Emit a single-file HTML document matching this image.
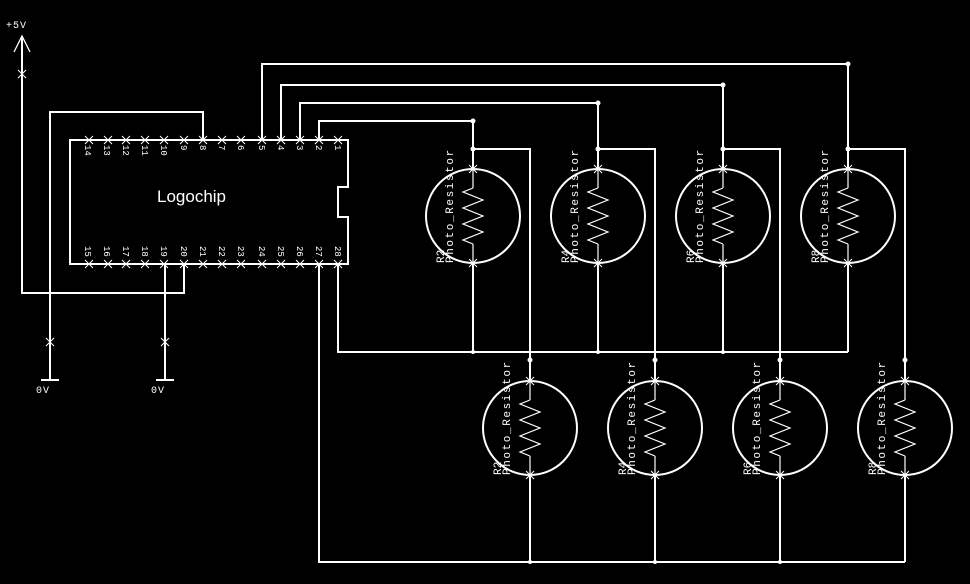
<!DOCTYPE html>
<html><head><meta charset="utf-8"><style>
html,body{margin:0;padding:0;background:#000;}
svg{display:block;}
text{font-family:"Liberation Mono",monospace;fill:#fff;}
</style></head><body>
<svg width="970" height="584" viewBox="0 0 970 584" xmlns="http://www.w3.org/2000/svg">
<defs>
<g id="res">
  <circle cx="0" cy="0" r="47" fill="none" stroke="#fff" stroke-width="2"/>
  <line x1="0" y1="-47" x2="0" y2="-28" stroke="#fff" stroke-width="1.2"/>
  <polyline points="0,-28 -10,-24 10,-16 -10,-8 10,0 -10,8 10,16 -10,24 0,28" fill="none" stroke="#fff" stroke-width="1.2"/>
  <line x1="0" y1="28" x2="0" y2="47" stroke="#fff" stroke-width="1.2"/>
  <path d="M-4,-51 L4,-43 M4,-51 L-4,-43 M-4,43 L4,51 M4,43 L-4,51" stroke="#fff" stroke-width="1"/>
  <text transform="translate(-20,47) rotate(-90)" font-size="11" letter-spacing="1.6">Photo_Resistor</text>
</g>
</defs>
<g stroke="#fff" stroke-width="2" fill="none">
  <path d="M70,140 H348 V187 H338 V217 H348 V264 H70 Z"/>
  <path d="M22,36 V293 H184 V264"/>
  <path d="M203,140 V112 H50 V380"/>
  <path d="M41,380 H59"/>
  <path d="M165,264 V380"/>
  <path d="M156,380 H174"/>
  <path d="M319,140 V121 H473 V169"/>
  <path d="M300,140 V103 H598 V169"/>
  <path d="M281,140 V85 H723 V169"/>
  <path d="M262,140 V64 H848 V169"/>
  <path d="M473,149 H530 V381"/>
  <path d="M598,149 H655 V381"/>
  <path d="M723,149 H780 V381"/>
  <path d="M848,149 H905 V381"/>
  <path d="M338,264 V352 H848"/>
  <path d="M473,263 V352 M598,263 V352 M723,263 V352 M848,263 V352"/>
  <path d="M319,264 V562 H905"/>
  <path d="M530,475 V562 M655,475 V562 M780,475 V562 M905,475 V562"/>
</g>
<path d="M14,52 L22,36 L30,52" stroke="#fff" stroke-width="1.3" fill="none"/>
<g fill="#fff">
  <circle cx="473" cy="121" r="2.5"/><circle cx="598" cy="103" r="2.5"/><circle cx="723" cy="85" r="2.5"/><circle cx="848" cy="64" r="2.5"/>
  <circle cx="473" cy="149" r="2.5"/><circle cx="598" cy="149" r="2.5"/><circle cx="723" cy="149" r="2.5"/><circle cx="848" cy="149" r="2.5"/>
  <circle cx="530" cy="360" r="2.5"/><circle cx="655" cy="360" r="2.5"/><circle cx="780" cy="360" r="2.5"/><circle cx="905" cy="360" r="2.5"/>
  <circle cx="473" cy="352" r="2"/><circle cx="598" cy="352" r="2"/><circle cx="723" cy="352" r="2"/>
  <circle cx="530" cy="562" r="2"/><circle cx="655" cy="562" r="2"/><circle cx="780" cy="562" r="2"/>
</g>
<g stroke="#fff" stroke-width="1">
  <path d="M18,70 L26,78 M26,70 L18,78"/>
  <path d="M46,338 L54,346 M54,338 L46,346"/>
  <path d="M161,338 L169,346 M169,338 L161,346"/>
  <path d="M85,136 l8,8 m0,-8 l-8,8 M104,136 l8,8 m0,-8 l-8,8 M122,136 l8,8 m0,-8 l-8,8 M141,136 l8,8 m0,-8 l-8,8 M160,136 l8,8 m0,-8 l-8,8 M180,136 l8,8 m0,-8 l-8,8 M199,136 l8,8 m0,-8 l-8,8 M218,136 l8,8 m0,-8 l-8,8 M237,136 l8,8 m0,-8 l-8,8 M258,136 l8,8 m0,-8 l-8,8 M277,136 l8,8 m0,-8 l-8,8 M296,136 l8,8 m0,-8 l-8,8 M315,136 l8,8 m0,-8 l-8,8 M334,136 l8,8 m0,-8 l-8,8"/>
  <path d="M85,260 l8,8 m0,-8 l-8,8 M104,260 l8,8 m0,-8 l-8,8 M122,260 l8,8 m0,-8 l-8,8 M141,260 l8,8 m0,-8 l-8,8 M160,260 l8,8 m0,-8 l-8,8 M180,260 l8,8 m0,-8 l-8,8 M199,260 l8,8 m0,-8 l-8,8 M218,260 l8,8 m0,-8 l-8,8 M237,260 l8,8 m0,-8 l-8,8 M258,260 l8,8 m0,-8 l-8,8 M277,260 l8,8 m0,-8 l-8,8 M296,260 l8,8 m0,-8 l-8,8 M315,260 l8,8 m0,-8 l-8,8 M334,260 l8,8 m0,-8 l-8,8"/>
</g>
<text x="6" y="28" font-size="10" letter-spacing="1">+5V</text>
<text x="36" y="393" font-size="10" letter-spacing="1">0V</text>
<text x="151" y="393" font-size="10" letter-spacing="1">0V</text>
<text x="157" y="202" font-size="17" style="font-family:'Liberation Sans',sans-serif">Logochip</text>
<g font-size="9">
  <text transform="translate(85,145) rotate(90)">14</text>
  <text transform="translate(104,145) rotate(90)">13</text>
  <text transform="translate(123,145) rotate(90)">12</text>
  <text transform="translate(142,145) rotate(90)">11</text>
  <text transform="translate(161,145) rotate(90)">10</text>
  <text transform="translate(181,145) rotate(90)">9</text>
  <text transform="translate(200,145) rotate(90)">8</text>
  <text transform="translate(219,145) rotate(90)">7</text>
  <text transform="translate(238,145) rotate(90)">6</text>
  <text transform="translate(259,145) rotate(90)">5</text>
  <text transform="translate(278,145) rotate(90)">4</text>
  <text transform="translate(297,145) rotate(90)">3</text>
  <text transform="translate(316,145) rotate(90)">2</text>
  <text transform="translate(335,145) rotate(90)">1</text>
  <text transform="translate(85,246) rotate(90)">15</text>
  <text transform="translate(104,246) rotate(90)">16</text>
  <text transform="translate(123,246) rotate(90)">17</text>
  <text transform="translate(142,246) rotate(90)">18</text>
  <text transform="translate(161,246) rotate(90)">19</text>
  <text transform="translate(181,246) rotate(90)">20</text>
  <text transform="translate(200,246) rotate(90)">21</text>
  <text transform="translate(219,246) rotate(90)">22</text>
  <text transform="translate(238,246) rotate(90)">23</text>
  <text transform="translate(259,246) rotate(90)">24</text>
  <text transform="translate(278,246) rotate(90)">25</text>
  <text transform="translate(297,246) rotate(90)">26</text>
  <text transform="translate(316,246) rotate(90)">27</text>
  <text transform="translate(335,246) rotate(90)">28</text>
</g>
<use href="#res" x="473" y="216"/><use href="#res" x="598" y="216"/><use href="#res" x="723" y="216"/><use href="#res" x="848" y="216"/>
<use href="#res" x="530" y="428"/><use href="#res" x="655" y="428"/><use href="#res" x="780" y="428"/><use href="#res" x="905" y="428"/>
<g font-size="11">
  <text transform="translate(444,263) rotate(-90)">R2</text>
  <text transform="translate(569,263) rotate(-90)">R4</text>
  <text transform="translate(694,263) rotate(-90)">R6</text>
  <text transform="translate(819,263) rotate(-90)">R8</text>
  <text transform="translate(501,475) rotate(-90)">R2</text>
  <text transform="translate(626,475) rotate(-90)">R4</text>
  <text transform="translate(751,475) rotate(-90)">R6</text>
  <text transform="translate(876,475) rotate(-90)">R8</text>
</g>
</svg>
</body></html>
